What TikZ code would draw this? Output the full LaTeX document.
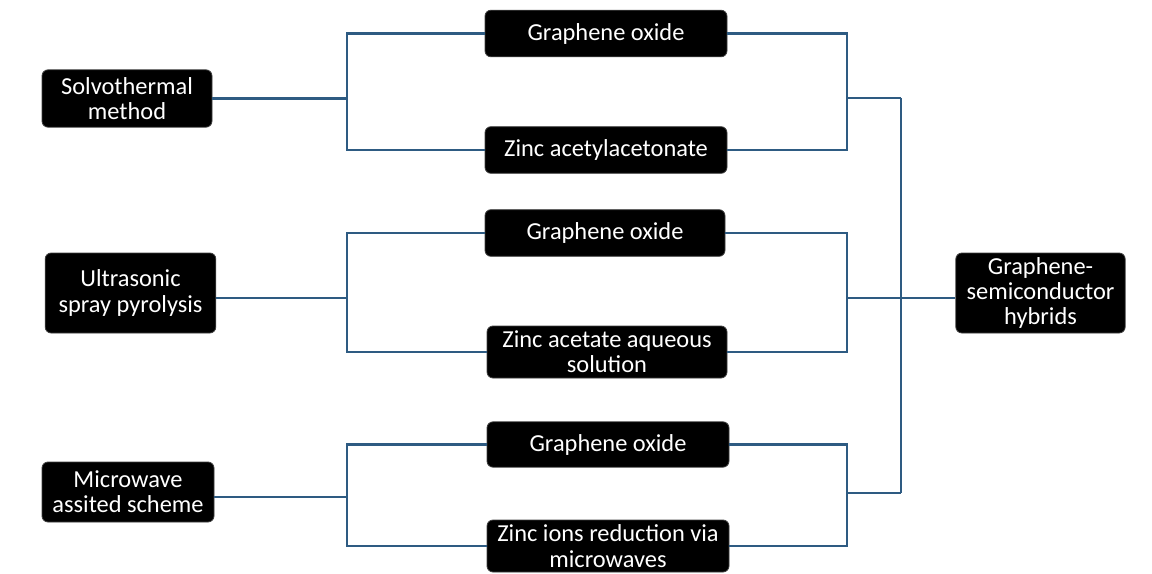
\documentclass[tikz,border=0pt]{standalone}
\usepackage{fontspec}
\setmainfont{Carlito}
\begin{document}
\begin{tikzpicture}[x=0.75pt,y=-0.75pt,
  box/.style={draw=black!75, line width=0.6pt, fill=black, rounded corners=4.5pt,
    text=white, align=center, inner sep=0pt,
    font=\fontsize{18.3}{19}\selectfont},
  conn/.style={draw=linkblue, line width=1.7pt}]
\definecolor{linkblue}{HTML}{2E5B82}
\useasboundingbox (0,0) rectangle (1152,574);
% left method boxes
\node[box, minimum width=127.5pt, minimum height=43pt] (solvo) at (127,98.5) {Solvothermal\\method};
\node[box, minimum width=128pt, minimum height=60pt] (ultra) at (130.5,293) {Ultrasonic\\spray pyrolysis};
\node[box, minimum width=129pt, minimum height=45pt] (micro) at (128,492) {Microwave\\assited scheme};
% middle boxes
\node[box, minimum width=181.5pt, minimum height=35pt] (go1) at (606,33.5) {Graphene oxide};
\node[box, minimum width=181.5pt, minimum height=35pt] (za1) at (606,150) {Zinc acetylacetonate};
\node[box, minimum width=180pt, minimum height=35pt] (go2) at (605,233) {Graphene oxide};
\node[box, minimum width=180pt, minimum height=39pt] (za2) at (607,352) {Zinc acetate aqueous\\solution};
\node[box, minimum width=181.5pt, minimum height=34pt] (go3) at (608,444.5) {Graphene oxide};
\node[box, minimum width=181.5pt, minimum height=39pt] (za3) at (608,546) {Zinc ions reduction via\\microwaves};
% result
\node[box, minimum width=127pt, minimum height=60pt] (hyb) at (1040.5,293) {Graphene-\\semiconductor\\hybrids};
% junctions
\coordinate (L1) at (347,98.5);
\coordinate (L2) at (347,298);
\coordinate (L3) at (347,497);
\coordinate (R1) at (847,98);
\coordinate (R2) at (847,298);
\coordinate (R3) at (847,493);
\coordinate (T1) at (901,98);
\coordinate (T3) at (901,493);
% group 1
\draw[conn] (solvo.east |- L1) -- (L1);
\draw[conn] (go1.west) -| (L1) |- (za1.west);
\draw[conn] (go1.east) -| (R1) |- (za1.east);
\draw[conn] (R1) -- (T1);
% group 2
\draw[conn] (ultra.east |- L2) -- (L2);
\draw[conn] (go2.west) -| (L2) |- (za2.west);
\draw[conn] (go2.east) -| (R2) |- (za2.east);
\draw[conn] (R2) -- (hyb.west |- R2);
% group 3
\draw[conn] (micro.east |- L3) -- (L3);
\draw[conn] (go3.west) -| (L3) |- (za3.west);
\draw[conn] (go3.east) -| (R3) |- (za3.east);
\draw[conn] (R3) -- (T3);
% trunk
\draw[conn] (T1) -- (T3);
\end{tikzpicture}
\end{document}
